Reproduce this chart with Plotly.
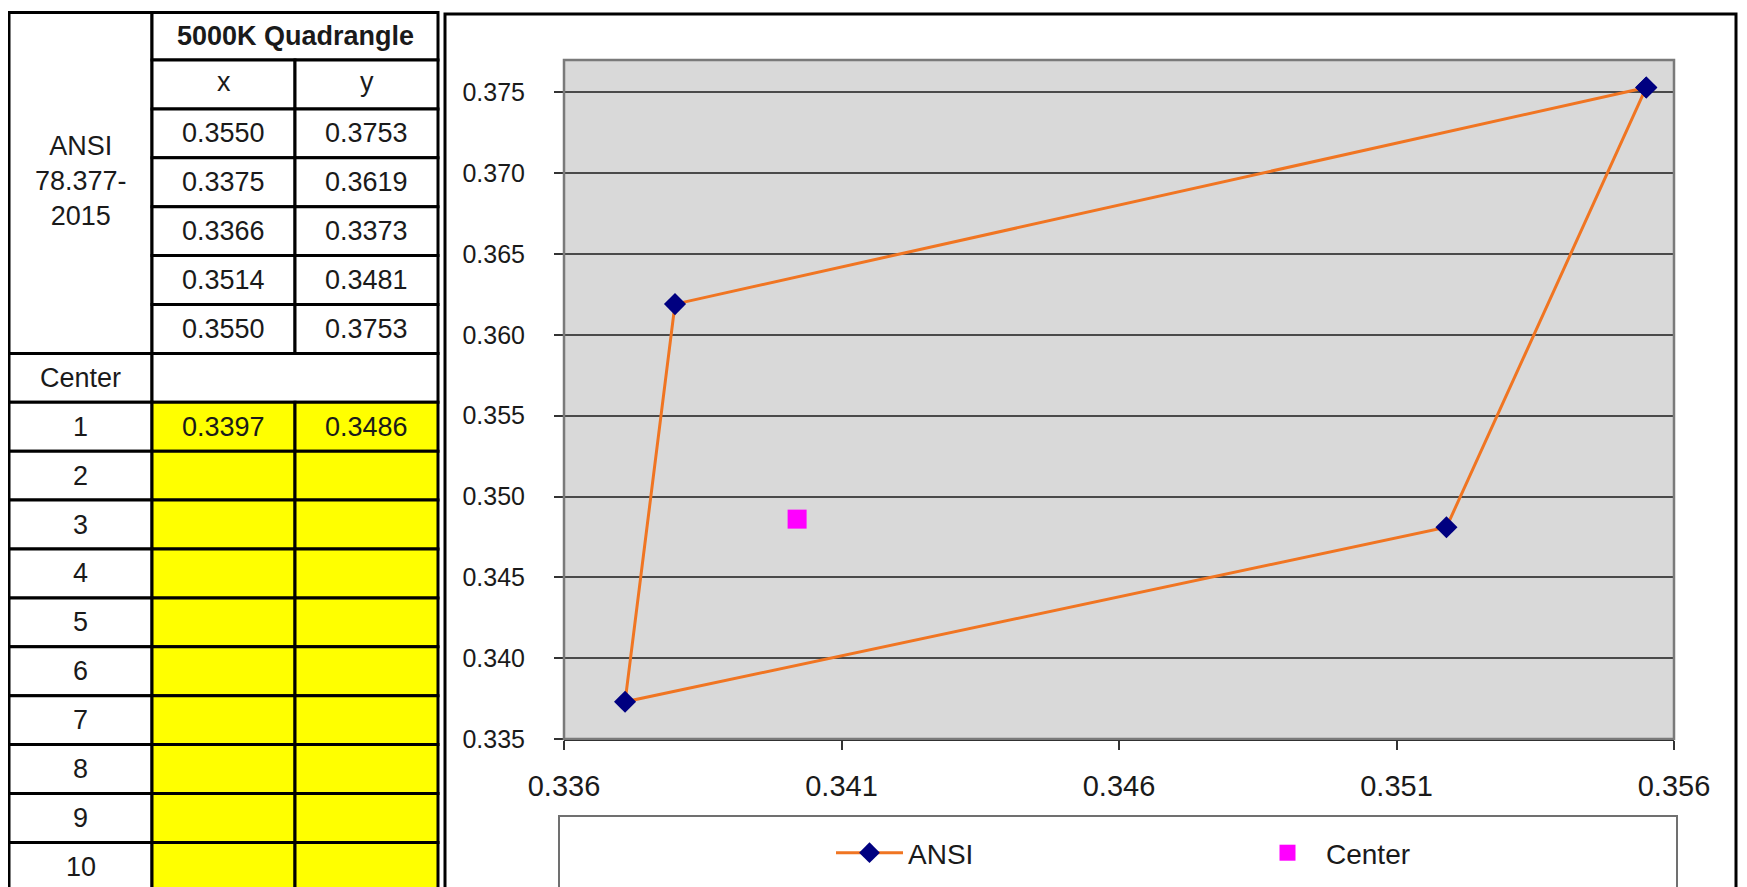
import plotly.graph_objects as go

# ---------------- data ----------------
ansi_x = [0.3550, 0.3375, 0.3366, 0.3514, 0.3550]
ansi_y = [0.3753, 0.3619, 0.3373, 0.3481, 0.3753]
center_x = [0.3397]
center_y = [0.3486]
sample_rows = ["1", "2", "3", "4", "5", "6", "7", "8", "9", "10"]
x_tick_vals = [0.3355, 0.3405, 0.3455, 0.3505, 0.3555]
x_tick_text = ["0.336", "0.341", "0.346", "0.351", "0.356"]
table_title = "5000K Quadrangle"
std_label = "ANSI<br>78.377-<br>2015"

W, H = 1747, 887
OFF = 8  # page body margin
FONT = "Liberation Sans, Arial, sans-serif"


def fx(p):
    return (p - OFF) / W


def fy(p):
    return 1 - (p - OFF) / H


fig = go.Figure()
fig.add_trace(go.Scatter(
    x=ansi_x, y=ansi_y, mode="lines+markers", name="ANSI",
    line=dict(color="#f07522", width=3),
    marker=dict(symbol="diamond", size=17, color="#000080"),
))
fig.add_trace(go.Scatter(
    x=center_x, y=center_y, mode="markers", name="Center",
    marker=dict(symbol="square", size=19, color="#ff00ff"),
))

shapes = []
annotations = []

# ---------------- table ----------------
cols = [9, 152, 295, 438]
row_top = 12.5
row_h = 48.9
first = 60.0
rows = [row_top] + [first + row_h * k for k in range(18)]  # boundaries
LINE = dict(color="#000000", width=3)


def cell(x0, x1, y0, y1, fill="#ffffff"):
    shapes.append(dict(type="rect", xref="paper", yref="paper",
                       x0=fx(x0), x1=fx(x1), y0=fy(y1), y1=fy(y0),
                       fillcolor=fill, line=LINE, layer="above"))


def text(xc, yc, t, size=27):
    annotations.append(dict(x=fx(xc), y=fy(yc), xref="paper", yref="paper", text=t,
                            showarrow=False, xanchor="center", yanchor="middle",
                            font=dict(family=FONT, size=size, color="#1a1a1a")))


def fmt(v):
    return f"{v:.4f}"


# merged label cell
cell(cols[0], cols[1], rows[0], rows[7])
text((cols[0] + cols[1]) / 2, (rows[0] + rows[7]) / 2 - 2, std_label)
# title row
cell(cols[1], cols[3], rows[0], rows[1])
text((cols[1] + cols[3]) / 2, (rows[0] + rows[1]) / 2, "<b>" + table_title + "</b>", 27)
# x / y header
cell(cols[1], cols[2], rows[1], rows[2])
cell(cols[2], cols[3], rows[1], rows[2])
text((cols[1] + cols[2]) / 2, (rows[1] + rows[2]) / 2 - 2, "x")
text((cols[2] + cols[3]) / 2, (rows[1] + rows[2]) / 2 - 2, "y")
# ANSI values
for i, (vx, vy) in enumerate(zip(ansi_x, ansi_y)):
    r0, r1 = rows[2 + i], rows[3 + i]
    cell(cols[1], cols[2], r0, r1)
    cell(cols[2], cols[3], r0, r1)
    text((cols[1] + cols[2]) / 2, (r0 + r1) / 2, fmt(vx))
    text((cols[2] + cols[3]) / 2, (r0 + r1) / 2, fmt(vy))
# center row
cell(cols[0], cols[1], rows[7], rows[8])
cell(cols[1], cols[3], rows[7], rows[8])
text((cols[0] + cols[1]) / 2, (rows[7] + rows[8]) / 2, "Center")
# sample rows
for i, lab in enumerate(sample_rows):
    r0, r1 = rows[8 + i], rows[9 + i]
    cell(cols[0], cols[1], r0, r1)
    cell(cols[1], cols[2], r0, r1, "#ffff00")
    cell(cols[2], cols[3], r0, r1, "#ffff00")
    text((cols[0] + cols[1]) / 2, (r0 + r1) / 2, lab)
    if i < len(center_x):
        text((cols[1] + cols[2]) / 2, (r0 + r1) / 2, fmt(center_x[i]))
        text((cols[2] + cols[3]) / 2, (r0 + r1) / 2, fmt(center_y[i]))

# ---------------- chart frame ----------------
shapes.append(dict(type="rect", xref="paper", yref="paper",
                   x0=fx(445), x1=fx(1736), y0=fy(900), y1=fy(14),
                   line=dict(color="#000000", width=3), fillcolor="rgba(0,0,0,0)", layer="below"))
# legend box
shapes.append(dict(type="rect", xref="paper", yref="paper",
                   x0=fx(559), x1=fx(1677), y0=fy(900), y1=fy(816),
                   line=dict(color="#707070", width=2), fillcolor="#ffffff", layer="below"))
# plot-area border
shapes.append(dict(type="rect", xref="x domain", yref="y domain",
                   x0=0, x1=1, y0=0, y1=1,
                   line=dict(color="#7a7a7a", width=2.5), layer="above"))

PL, PR, PT, PB = 564, 1674, 60, 739

fig.update_layout(
    width=W, height=H,
    margin=dict(l=0, r=0, t=0, b=0, pad=0, autoexpand=False),
    paper_bgcolor="#ffffff",
    plot_bgcolor="#d9d9d9",
    font=dict(family=FONT, color="#1a1a1a"),
    shapes=shapes,
    annotations=annotations,
    showlegend=True,
    legend=dict(orientation="h", x=fx(831), xanchor="left", y=fy(853), yanchor="middle",
                bgcolor="rgba(0,0,0,0)", borderwidth=0,
                font=dict(family=FONT, size=28, color="#1a1a1a"),
                itemwidth=67,
                entrywidth=336, entrywidthmode="pixels"),
    xaxis=dict(domain=[fx(PL), fx(PR)], range=[0.3355, 0.3555],
               tickmode="array", tickvals=x_tick_vals, ticktext=x_tick_text,
               showgrid=False, zeroline=False, automargin=False,
               showline=True, linecolor="#1a1a1a", linewidth=2,
               ticks="outside", ticklen=9, tickwidth=1.5, tickcolor="#333333",
               tickfont=dict(family=FONT, size=29, color="#1a1a1a"),
               ticklabelstandoff=11),
    yaxis=dict(domain=[fy(PB), fy(PT)], range=[0.335, 0.377],
               tick0=0.335, dtick=0.005, tickformat=".3f",
               showgrid=True, gridcolor="#4a4a4a", gridwidth=1.5, zeroline=False,
               showline=False, automargin=False,
               ticks="outside", ticklen=9, tickwidth=1.5, tickcolor="#333333",
               tickfont=dict(family=FONT, size=25, color="#1a1a1a"),
               ticklabelstandoff=24),
)

fig.write_html("out.html")
